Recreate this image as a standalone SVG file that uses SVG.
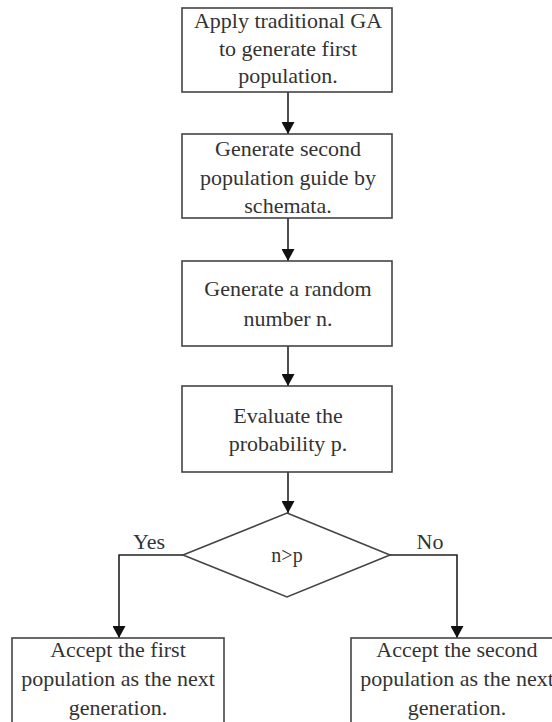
<svg xmlns="http://www.w3.org/2000/svg" width="552" height="722" viewBox="0 0 552 722">
<defs>
<style>
.box{fill:#fff;stroke:#444;stroke-width:1.6}
.t{font-family:"Liberation Serif","Times New Roman",serif;font-size:22px;fill:#333;text-anchor:middle}
.c{fill:none;stroke:#222;stroke-width:1.6}
</style>
<marker id="ah" markerWidth="12" markerHeight="13" refX="12" refY="6.5" orient="auto" markerUnits="userSpaceOnUse">
<path d="M0,0 L12,6.5 L0,13 Z" fill="#111"/>
</marker>
</defs>
<rect width="552" height="722" fill="#fff"/>
<g id="connectors">
<line class="c" x1="288" y1="92" x2="288" y2="134" marker-end="url(#ah)"/>
<line class="c" x1="288" y1="218" x2="288" y2="261" marker-end="url(#ah)"/>
<line class="c" x1="288" y1="346" x2="288" y2="386" marker-end="url(#ah)"/>
<line class="c" x1="288" y1="472" x2="288" y2="513" marker-end="url(#ah)"/>
<polyline class="c" points="183,555 119,555 119,638" marker-end="url(#ah)"/>
<polyline class="c" points="390,555 457,555 457,638" marker-end="url(#ah)"/>
<text class="t" x="149" y="549">Yes</text>
<text class="t" x="430" y="549">No</text>
</g>
<g id="n1">
<rect class="box" x="182" y="8" width="210" height="84"/>
<text class="t" x="288" y="28">Apply traditional GA</text>
<text class="t" x="288" y="56">to generate first</text>
<text class="t" x="288" y="83">population.</text>
</g>
<g id="n2">
<rect class="box" x="182" y="134" width="210" height="84"/>
<text class="t" x="288" y="156">Generate second</text>
<text class="t" x="288" y="185">population guide by</text>
<text class="t" x="288" y="213">schemata.</text>
</g>
<g id="n3">
<rect class="box" x="182" y="261" width="210" height="85"/>
<text class="t" x="288" y="296">Generate a random</text>
<text class="t" x="288" y="326">number n.</text>
</g>
<g id="n4">
<rect class="box" x="182" y="386" width="210" height="86"/>
<text class="t" x="288" y="423">Evaluate the</text>
<text class="t" x="288" y="451">probability p.</text>
</g>
<g id="d1">
<polygon class="box" points="287,513 390,555 287,597 183,555"/>
<text class="t" x="287" y="562" style="font-size:20px">n&gt;p</text>
</g>
<g id="n5">
<rect class="box" x="12" y="638" width="212" height="90"/>
<text class="t" x="118" y="657">Accept the first</text>
<text class="t" x="118" y="686">population as the next</text>
<text class="t" x="118" y="715">generation.</text>
</g>
<g id="n6">
<rect class="box" x="351" y="638" width="215" height="90"/>
<text class="t" x="457" y="657">Accept the second</text>
<text class="t" x="457" y="686">population as the next</text>
<text class="t" x="457" y="715">generation.</text>
</g>
</svg>
